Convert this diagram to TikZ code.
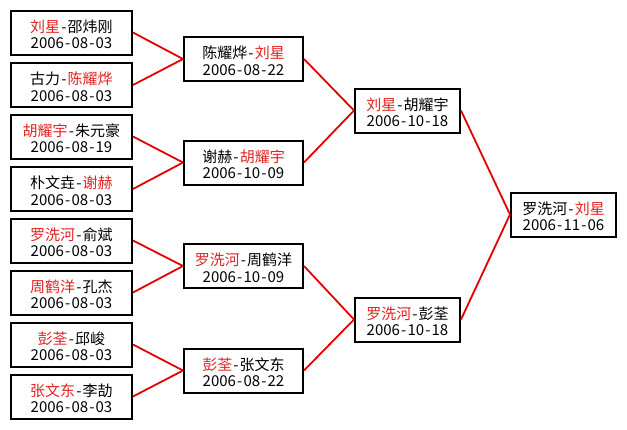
\documentclass[tikz,border=0pt]{standalone}
\usepackage{fontspec}
\setmainfont{Noto Sans CJK SC}
\definecolor{win}{RGB}{225,35,35}
\definecolor{linkred}{RGB}{228,0,0}
\newcommand\hy{\makebox[7.5pt]{-}}
\newcommand\R[1]{\textcolor{win}{#1}}
\newcommand\matchnode[6]{%
 \node[box,minimum width=#4] (#1) at (#2,#3) {};
 \node[txt] (#1-a) at ([yshift=0.5pt]#1.center) {#5};
 \node[txt] (#1-b) at ([yshift=-16pt]#1.center) {#6};}
\begin{document}
\begin{tikzpicture}[x=1pt,y=-1pt,
 box/.style={draw=black,line width=2pt,fill=white,minimum height=44pt,inner sep=0pt},
 txt/.style={anchor=base,inner sep=0pt,font=\fontsize{15pt}{18pt}\selectfont},
 conn/.style={draw=linkred,line width=1.8pt}]
\useasboundingbox[fill=white] (0,0) rectangle (627,429);
% first round
\matchnode{c1}{71.5}{32.5}{121pt}{\R{刘星}\hy{}邵炜刚}{2006\hy{}08\hy{}03}
\matchnode{c2}{71.5}{85}{121pt}{古力\hy{}\R{陈耀烨}}{2006\hy{}08\hy{}03}
\matchnode{c3}{71.5}{136.5}{121pt}{\R{胡耀宇}\hy{}朱元豪}{2006\hy{}08\hy{}19}
\matchnode{c4}{71.5}{189}{121pt}{朴文垚\hy{}\R{谢赫}}{2006\hy{}08\hy{}03}
\matchnode{c5}{71.5}{240.5}{121pt}{\R{罗洗河}\hy{}俞斌}{2006\hy{}08\hy{}03}
\matchnode{c6}{71.5}{292.5}{121pt}{\R{周鹤洋}\hy{}孔杰}{2006\hy{}08\hy{}03}
\matchnode{c7}{71.5}{344.5}{121pt}{\R{彭荃}\hy{}邱峻}{2006\hy{}08\hy{}03}
\matchnode{c8}{71.5}{396.5}{121pt}{\R{张文东}\hy{}李劼}{2006\hy{}08\hy{}03}
% second round
\matchnode{s1}{243.5}{59}{119pt}{陈耀烨\hy{}\R{刘星}}{2006\hy{}08\hy{}22}
\matchnode{s2}{243.5}{162.5}{119pt}{谢赫\hy{}\R{胡耀宇}}{2006\hy{}10\hy{}09}
\matchnode{s3}{243.5}{266}{119pt}{\R{罗洗河}\hy{}周鹤洋}{2006\hy{}10\hy{}09}
\matchnode{s4}{243.5}{370.5}{119pt}{\R{彭荃}\hy{}张文东}{2006\hy{}08\hy{}22}
% semi final
\matchnode{t1}{407.5}{110.5}{105pt}{\R{刘星}\hy{}胡耀宇}{2006\hy{}10\hy{}18}
\matchnode{t2}{407.5}{319.5}{105pt}{\R{罗洗河}\hy{}彭荃}{2006\hy{}10\hy{}18}
% final
\matchnode{f}{563.5}{214.5}{105pt}{罗洗河\hy{}\R{刘星}}{2006\hy{}11\hy{}06}
% connectors
\draw[conn] (c1.east) -- (s1.west);
\draw[conn] (c2.east) -- (s1.west);
\draw[conn] (c3.east) -- (s2.west);
\draw[conn] (c4.east) -- (s2.west);
\draw[conn] (c5.east) -- (s3.west);
\draw[conn] (c6.east) -- (s3.west);
\draw[conn] (c7.east) -- (s4.west);
\draw[conn] (c8.east) -- (s4.west);
\draw[conn] (s1.east) -- (t1.west);
\draw[conn] (s2.east) -- (t1.west);
\draw[conn] (s3.east) -- (t2.west);
\draw[conn] (s4.east) -- (t2.west);
\draw[conn] (t1.east) -- (f.west);
\draw[conn] (t2.east) -- (f.west);
\end{tikzpicture}
\end{document}
